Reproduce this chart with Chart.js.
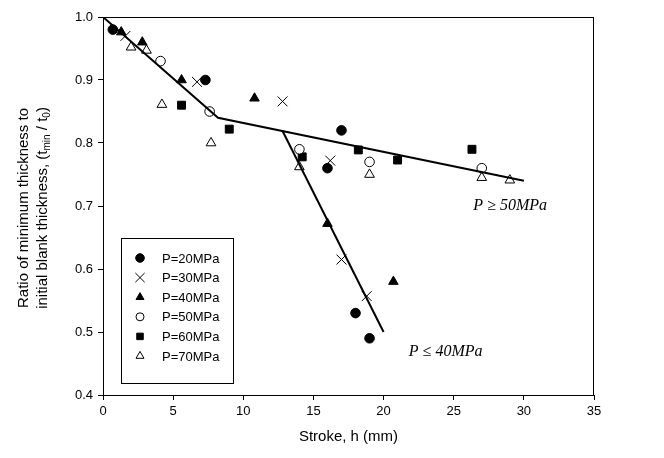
<!DOCTYPE html>
<html>
<head>
<meta charset="utf-8">
<script src="https://cdn.jsdelivr.net/npm/chart.js@4/dist/chart.umd.min.js"></script>
<style>
html,body{margin:0;padding:0;background:#fff;}
#wrap{width:664px;height:458px;position:relative;}
</style>
</head>
<body>
<div id="wrap"><canvas id="c" width="664" height="458"></canvas></div>
<script>
// ---- Data ----
const seriesNames = ["P=20MPa","P=30MPa","P=40MPa","P=50MPa","P=60MPa","P=70MPa"];
const p20x = [0.7, 7.3, 17.0, 16.0, 18.0, 19.0];
const p20y = [0.98, 0.90, 0.82, 0.76, 0.53, 0.49];
const p30x = [1.6, 6.7, 12.8, 16.2, 17.0, 18.8];
const p30y = [0.97, 0.897, 0.866, 0.772, 0.615, 0.557];
const p40x = [1.3, 2.8, 5.6, 10.8, 16.0, 20.7];
const p40y = [0.976, 0.96, 0.90, 0.871, 0.672, 0.58];
const p50x = [4.1, 7.6, 14.0, 19.0, 27.0];
const p50y = [0.93, 0.85, 0.79, 0.77, 0.76];
const p60x = [5.6, 9.0, 14.2, 18.2, 21.0, 26.3];
const p60y = [0.86, 0.822, 0.778, 0.789, 0.773, 0.79];
const p70x = [2.0, 3.1, 4.2, 7.7, 14.0, 19.0, 27.0, 29.0];
const p70y = [0.952, 0.947, 0.861, 0.80, 0.762, 0.75, 0.745, 0.741];
// fitted trend lines
const highPx = [0, 8.2, 30.0];
const highPy = [1.0, 0.84, 0.74];
const lowPx = [12.8, 20.0];
const lowPy = [0.819, 0.50];
const xTicks = [0,5,10,15,20,25,30,35];
const yTicks = [0.4,0.5,0.6,0.7,0.8,0.9,1.0];

function pts(xs, ys){ return xs.map((x,i)=>({x:x, y:ys[i]})); }

const styles = [
  {pointStyle:'circle', radius:4.8, lr:4.3, fill:'#000', stroke:'#000', bw:1},
  {pointStyle:'crossRot', radius:7, lr:6.5, fill:'#000', stroke:'#000', bw:1},
  {pointStyle:'triangle', radius:5.5, lr:4.6, fill:'#000', stroke:'#000', bw:1},
  {pointStyle:'circle', radius:4.8, lr:4.0, fill:'#fff', stroke:'#000', bw:1},
  {pointStyle:'rect', radius:5.6, lr:4.6, fill:'#000', stroke:'#000', bw:1},
  {pointStyle:'triangle', radius:5.6, lr:4.6, fill:'#fff', stroke:'#000', bw:1}
];
const seriesData = [pts(p20x,p20y),pts(p30x,p30y),pts(p40x,p40y),pts(p50x,p50y),pts(p60x,p60y),pts(p70x,p70y)];

const datasets = [];
datasets.push({type:'line', label:'high', data:pts(highPx,highPy), borderColor:'#000', borderWidth:2, pointRadius:0, fill:false, tension:0});
datasets.push({type:'line', label:'low', data:pts(lowPx,lowPy), borderColor:'#000', borderWidth:2, pointRadius:0, fill:false, tension:0});
seriesNames.forEach((n,i)=>{
  const s = styles[i];
  datasets.push({type:'scatter', label:n, data:seriesData[i], pointStyle:s.pointStyle,
    pointRadius:s.radius, pointHoverRadius:s.radius, backgroundColor:s.fill, borderColor:s.stroke, pointBorderWidth:s.bw});
});

const FONT = "'Liberation Sans', Arial, sans-serif";
const SERIF = "'Liberation Serif', 'Times New Roman', serif";

const decor = {
  id:'decor',
  afterDraw(chart){
    const ctx = chart.ctx, a = chart.chartArea;
    const xs = chart.scales.x, ys = chart.scales.y;
    ctx.save();
    // frame
    ctx.strokeStyle = '#000'; ctx.lineWidth = 1;
    ctx.strokeRect(a.left+0.5, a.top+0.5, a.right-a.left-1, a.bottom-a.top);
    // x title
    ctx.fillStyle = '#000';
    ctx.font = "15px " + FONT;
    ctx.textAlign = 'center'; ctx.textBaseline = 'middle';
    ctx.fillText("Stroke, h (mm)", (a.left+a.right)/2, 437);
    // y title
    ctx.save();
    ctx.translate(24, (a.top+a.bottom)/2 + 2);
    ctx.rotate(-Math.PI/2);
    ctx.font = "15px " + FONT;
    ctx.textAlign = 'center';
    ctx.fillText("Ratio of minimum thickness to", 0, 0);
    const parts = [["initial blank thickness, (t",15,0],["min",10,4],[" / t",15,0],["0",10,4],[")",15,0]];
    let total = 0;
    parts.forEach(p=>{ ctx.font = p[1]+"px "+FONT; total += ctx.measureText(p[0]).width; });
    let cx = -total/2;
    ctx.textAlign = 'left';
    parts.forEach(p=>{ ctx.font = p[1]+"px "+FONT; ctx.fillText(p[0], cx, 19 + p[2]); cx += ctx.measureText(p[0]).width; });
    ctx.restore();
    // annotations
    ctx.font = "italic 16px " + SERIF;
    ctx.textAlign = 'left'; ctx.textBaseline = 'middle';
    ctx.fillText("P \u2265 50MPa", xs.getPixelForValue(26.4), ys.getPixelForValue(0.700));
    ctx.fillText("P \u2264 40MPa", xs.getPixelForValue(21.8), ys.getPixelForValue(0.468));
    // legend
    const lx = a.left + 18, ly = a.top + 221, lw = 112, lh = 145;
    ctx.lineWidth = 1;
    ctx.strokeRect(lx+0.5, ly+0.5, lw, lh);
    ctx.font = "13px " + FONT;
    seriesNames.forEach((n,i)=>{
      const s = styles[i];
      const yy = ly + 20 + i*19.6;
      ctx.fillStyle = s.fill; ctx.strokeStyle = s.stroke; ctx.lineWidth = s.bw;
      Chart.helpers.drawPoint(ctx, {pointStyle:s.pointStyle, radius:s.lr, borderWidth:s.bw, rotation:0}, lx+19, yy);
      ctx.fillStyle = '#000';
      ctx.fillText(n, lx+41, yy+1);
    });
    ctx.restore();
  }
};

new Chart(document.getElementById('c'), {
  data:{datasets:datasets},
  options:{
    responsive:false, animation:false, devicePixelRatio:1,
    layout:{padding:{left:0, top:17, right:70, bottom:0}},
    plugins:{legend:{display:false}, tooltip:{enabled:false}},
    scales:{
      x:{type:'linear', min:0, max:35,
        afterBuildTicks(s){ s.ticks = xTicks.map(v=>({value:v})); },
        afterFit(s){ s.height = 63; },
        ticks:{color:'#000', font:{family:FONT, size:13}, padding:4, maxRotation:0,
          callback:(v)=>String(v)},
        grid:{drawOnChartArea:false, drawTicks:true, tickLength:5, color:'#000'},
        border:{display:true, color:'#000', width:1}
      },
      y:{type:'linear', min:0.4, max:1.0,
        afterBuildTicks(s){ s.ticks = yTicks.map(v=>({value:v})); },
        afterFit(s){ s.width = 103; },
        ticks:{color:'#000', font:{family:FONT, size:13}, padding:5,
          callback:(v)=>Number(v).toFixed(1)},
        grid:{drawOnChartArea:false, drawTicks:true, tickLength:5, color:'#000'},
        border:{display:true, color:'#000', width:1}
      }
    }
  },
  plugins:[decor]
});
</script>
</body>
</html>
